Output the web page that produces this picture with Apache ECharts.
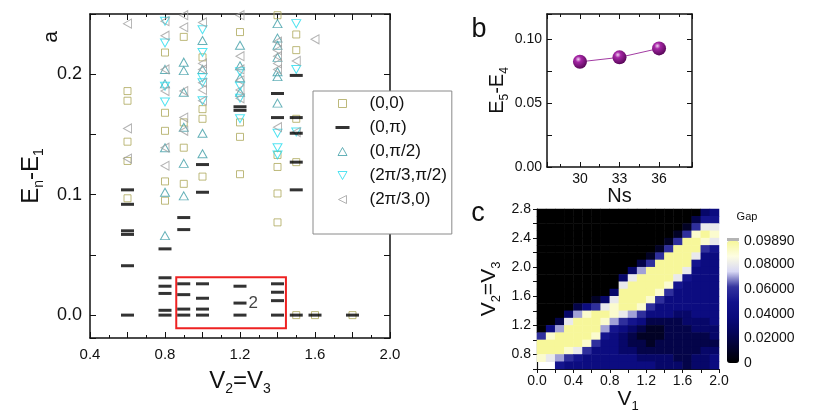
<!DOCTYPE html>
<html>
<head>
<meta charset="utf-8">
<title>Gap spectrum</title>
<script src="https://cdn.jsdelivr.net/npm/echarts@6/dist/echarts.min.js"></script>
<style>
  html, body { margin: 0; padding: 0; background: #fff; }
  #chart { width: 822px; height: 412px; }
</style>
</head>
<body>
<div id="chart"></div>
<script>
// Three panels in one canvas: (a) level spectrum per momentum sector,
// (b) E5-E4 against cluster size, (c) gap map over V1 / V2=V3.

// ---- panel a: E_n - E_1 against V2=V3, one list per momentum sector
const sector00 = [
  [0.6, 0.186], [0.6, 0.178], [0.6, 0.144], [0.6, 0.128], [0.6, 0.097],
  [0.8, 0.218], [0.8, 0.168], [0.8, 0.153], [0.8, 0.111], [0.8, 0.095],
  [0.9, 0.231], [0.9, 0.160], [0.9, 0.139], [0.9, 0.109],
  [1.0, 0.214], [1.0, 0.171], [1.0, 0.163], [1.0, 0.115],
  [1.2, 0.235], [1.2, 0.160], [1.2, 0.148], [1.2, 0.117],
  [1.4, 0.249], [1.4, 0.133], [1.4, 0.123], [1.4, 0.101], [1.4, 0.077],
  [1.5, 0.233], [1.5, 0.220], [1.5, 0.163], [1.5, 0.127], [1.5, 0],
  [1.6, 0], [1.8, 0]
];
const sector0pi = [
  [0.6, 0.104], [0.6, 0.092], [0.6, 0.070], [0.6, 0.067], [0.6, 0.041], [0.6, 0],
  [0.8, 0.055], [0.8, 0.031], [0.8, 0.024], [0.8, 0.018], [0.8, 0.004], [0.8, 0],
  [0.9, 0.081], [0.9, 0.071], [0.9, 0.026], [0.9, 0.017], [0.9, 0.005], [0.9, 0],
  [1.0, 0.125], [1.0, 0.102], [1.0, 0.026], [1.0, 0.014], [1.0, 0.005], [1.0, 0],
  [1.2, 0.173], [1.2, 0.170], [1.2, 0.024], [1.2, 0.010], [1.2, 0],
  [1.4, 0.184], [1.4, 0.164], [1.4, 0.026], [1.4, 0.019], [1.4, 0.012], [1.4, 0],
  [1.5, 0.199], [1.5, 0.164], [1.5, 0.151], [1.5, 0.127], [1.5, 0.104], [1.5, 0],
  [1.6, 0], [1.8, 0]
];
const sector0half = [
  [0.8, 0.204], [0.8, 0.192], [0.8, 0.139], [0.8, 0.102], [0.8, 0.066],
  [0.9, 0.210], [0.9, 0.203], [0.9, 0.185], [0.9, 0.156], [0.9, 0.126], [0.9, 0.099],
  [1.0, 0.228], [1.0, 0.204], [1.0, 0.151], [1.0, 0.134],
  [1.2, 0.224], [1.2, 0.207], [1.2, 0.197], [1.2, 0.185],
  [1.4, 0.242], [1.4, 0.230], [1.4, 0.224], [1.4, 0.214], [1.4, 0.202], [1.4, 0.198], [1.4, 0.176]
];
const sectorThirdHalf = [
  [0.8, 0.244], [0.8, 0.226], [0.8, 0.190], [0.8, 0.177],
  [1.0, 0.237], [1.0, 0.218], [1.0, 0.197], [1.0, 0.193], [1.0, 0.178],
  [1.2, 0.202], [1.2, 0.190], [1.2, 0.180], [1.2, 0.163],
  [1.4, 0.151], [1.4, 0.139], [1.4, 0.133],
  [1.5, 0.242], [1.5, 0.204], [1.5, 0.152]
];
const sectorThird0 = [
  [0.6, 0.242], [0.6, 0.155], [0.6, 0.130],
  [0.8, 0.244], [0.8, 0.232], [0.8, 0.204], [0.8, 0.186], [0.8, 0.139], [0.8, 0.124],
  [0.9, 0.249], [0.9, 0.239], [0.9, 0.186], [0.9, 0.164], [0.9, 0.153],
  [1.0, 0.243], [1.0, 0.209], [1.0, 0.204], [1.0, 0.193], [1.0, 0.187], [1.0, 0.178],
  [1.2, 0.249], [1.2, 0.215], [1.2, 0.204], [1.2, 0.195], [1.2, 0.187], [1.2, 0.180],
  [1.4, 0.227], [1.4, 0.220], [1.4, 0.215], [1.4, 0.209], [1.4, 0.204], [1.4, 0.156],
  [1.5, 0.211], [1.5, 0.152],
  [1.6, 0.229]
];
const twoFoldLevel = [1.2, 0.010];           // the "=2" level inside the box
const zoomBox = [[0.86, -0.011], [1.445, 0.0315]];

// ---- panel b
const nsSizes = [30, 33, 36];
const gapE54 = [0.0825, 0.086, 0.093];

// ---- panel c: gap, one string per V2=V3 row (top row first),
// one character per V1 column; "." = outside the computed region
const heatX = ['0.05','0.15','0.25','0.35','0.45','0.55','0.65','0.75','0.85','0.95',
               '1.05','1.15','1.25','1.35','1.45','1.55','1.65','1.75','1.85','1.95'];
const heatY = ['0.65','0.75','0.85','0.95','1.05','1.15','1.25','1.35','1.45','1.55','1.65',
               '1.75','1.85','1.95','2.05','2.15','2.25','2.35','2.45','2.55','2.65','2.75'];
const heatRows = [
  '00000000000000000034', // 2.75
  '00000000000000000255', // 2.65
  '00000000000000001688', // 2.55
  '000000000000000169y9', // 2.45
  '0000000000000016yy98', // 2.35
  '000000000000016yyy65', // 2.25
  '00000000000016yyy844', // 2.15
  '0000000000026yyyy544', // 2.05
  '000000000037yyyy8444', // 1.95
  '00000000038yyyy85444', // 1.85
  '0000000008yyyy954444', // 1.75
  '000000003yyyy9644444', // 1.65
  '000000138yyy96444444', // 1.55
  '000024689yy964444444', // 1.45
  '000379yy987644433444', // 1.35
  '0028yyy9765422223334', // 1.25
  '047yyyy7543211222333', // 1.15
  '69yyyy95432111222223', // 1.05
  'yyyyy964432212222222', // 0.95
  'yyy98644433222222233', // 0.85
  '98765444444333322334', // 0.75
  '..544444444443332334'  // 0.65
];
const heatLevel = { '0': 0, '1': 0.01, '2': 0.02, '3': 0.03, '4': 0.04, '5': 0.05,
                    '6': 0.06, '7': 0.07, '8': 0.08, '9': 0.09, 'y': 0.0989 };
const gapMax = 0.0989;
const heatColors = ['#000000', '#02022e', '#05055a', '#0a0a7c', '#12128c',
                    '#34349f', '#d8d8f4', '#fdfde2', '#f7f79a'];

const heatData = [];
heatRows.forEach((row, r) => {
  const yi = heatY.length - 1 - r;
  row.split('').forEach((ch, xi) => {
    if (ch !== '.') heatData.push([xi, yi, heatLevel[ch]]);
  });
});

const font = 'Liberation Sans';
const ink = '#111';

const stepLabel = (start, step, digits) => v => {
  const k = Math.round((v - start) / step);
  return Math.abs(v - start - k * step) < 1e-6 ? v.toFixed(digits) : '';
};
const richName = (big, small) => ({
  rich: {
    b: { fontFamily: font, fontSize: big, color: ink, lineHeight: big + 6 },
    s: { fontFamily: font, fontSize: small, color: ink, verticalAlign: 'bottom' }
  }
});
const line = { onZero: false, lineStyle: { color: ink, width: 1.5 } };
const tickIn = { inside: true, length: 5, lineStyle: { color: ink, width: 1 } };
const noSplit = { show: false };

function levelSeries(name, pts, symbol, size, color) {
  return {
    name, type: 'scatter', xAxisIndex: 0, yAxisIndex: 0,
    data: pts, symbol, symbolSize: size,
    itemStyle: { color: 'rgba(0,0,0,0)', borderColor: color, borderWidth: 1 },
    emphasis: { disabled: true }, z: 3
  };
}

const olive = '#aca75a', teal = '#3f9ea6', cyan = '#27dcee', grey = '#a0a0a0';
const box = 'path://M0,0M14,8';   // keeps every legend icon in the same 14x8 frame

const chart = echarts.init(document.getElementById('chart'), null, { renderer: 'canvas' });

chart.setOption({
  animation: false,
  backgroundColor: '#fff',
  textStyle: { fontFamily: font },
  grid: [
    { left: 90, top: 14, width: 300, height: 324, outerBoundsMode: 'none' },
    { left: 547, top: 14, width: 145, height: 153, outerBoundsMode: 'none' },
    { left: 537, top: 209, width: 182, height: 160, outerBoundsMode: 'none' },
    { left: 537, top: 209, width: 182, height: 160, outerBoundsMode: 'none' },
    { left: 727, top: 241, width: 12, height: 122, outerBoundsMode: 'none' }
  ],
  xAxis: [
    { gridIndex: 0, type: 'value', position: 'bottom', min: 0.4, max: 2.0, interval: 0.2,
      axisLine: line, axisTick: { ...tickIn, length: 6 }, splitLine: noSplit,
      minorTick: { show: true, splitNumber: 2, length: 3, lineStyle: { color: ink } },
      axisLabel: { fontSize: 15, color: ink, margin: 9, formatter: stepLabel(0.4, 0.4, 1) },
      name: '{b|V}{s|2}{b|=V}{s|3}', nameLocation: 'middle', nameGap: 28,
      nameTextStyle: richName(24, 14) },
    { gridIndex: 0, type: 'value', position: 'top', min: 0.4, max: 2.0, interval: 0.2,
      axisLine: line, axisTick: { ...tickIn, length: 6 }, splitLine: noSplit,
      minorTick: { show: true, splitNumber: 2, length: 3, lineStyle: { color: ink } },
      axisLabel: { show: false } },
    { gridIndex: 1, type: 'value', position: 'bottom', min: 27.5, max: 38.5, splitNumber: 4,
      axisLine: line, axisTick: tickIn, splitLine: noSplit,
      minorTick: { show: true, splitNumber: 2, length: 3, lineStyle: { color: ink } },
      axisLabel: { fontSize: 14, color: ink, margin: 5, formatter: stepLabel(0, 3, 0) },
      name: 'Ns', nameLocation: 'middle', nameGap: 19,
      nameTextStyle: { fontSize: 20, color: ink, fontFamily: font } },
    { gridIndex: 1, type: 'value', position: 'top', min: 27.5, max: 38.5, splitNumber: 4,
      axisLine: line, axisTick: tickIn, splitLine: noSplit,
      minorTick: { show: true, splitNumber: 2, length: 3, lineStyle: { color: ink } },
      axisLabel: { show: false } },
    { gridIndex: 2, type: 'category', data: heatX, show: false },
    { gridIndex: 3, type: 'value', position: 'bottom', min: 0, max: 2, interval: 0.2,
      axisLine: { onZero: false, lineStyle: { color: ink, width: 1.2 } },
      axisTick: { inside: false, length: 4, lineStyle: { color: ink } }, splitLine: noSplit,
      axisLabel: { fontSize: 14, color: ink, margin: 5, formatter: stepLabel(0, 0.4, 1) },
      name: '{b|V}{s|1}', nameLocation: 'middle', nameGap: 15,
      nameTextStyle: richName(21, 13) },
    { gridIndex: 4, type: 'value', min: 0, max: 1, show: false }
  ],
  yAxis: [
    { gridIndex: 0, type: 'value', position: 'left', min: -0.019, max: 0.25, splitNumber: 5,
      axisLine: line, axisTick: { ...tickIn, length: 6 }, splitLine: noSplit,
      axisLabel: { fontSize: 18, color: ink, margin: 8, formatter: stepLabel(0, 0.1, 1) },
      name: '{b|E}{s|n}{b|-E}{s|1}', nameLocation: 'middle', nameRotate: 90, nameGap: 44,
      nameTextStyle: richName(24, 14) },
    { gridIndex: 0, type: 'value', position: 'right', min: -0.019, max: 0.25, splitNumber: 5,
      axisLine: line, axisTick: { ...tickIn, length: 6 }, splitLine: noSplit,
      axisLabel: { show: false } },
    { gridIndex: 1, type: 'value', position: 'left', min: 0, max: 0.12, interval: 0.025,
      axisLine: line, axisTick: tickIn, splitLine: noSplit,
      axisLabel: { fontSize: 14, color: ink, margin: 5, formatter: stepLabel(0, 0.05, 2) },
      name: '{b|E}{s|5}{b|-E}{s|4}', nameLocation: 'middle', nameRotate: 90, nameGap: 30,
      nameTextStyle: richName(20, 12) },
    { gridIndex: 1, type: 'value', position: 'right', min: 0, max: 0.12, interval: 0.025,
      axisLine: line, axisTick: tickIn, splitLine: noSplit, axisLabel: { show: false } },
    { gridIndex: 2, type: 'category', data: heatY, show: false },
    { gridIndex: 3, type: 'value', position: 'left', min: 0.6, max: 2.8, interval: 0.2,
      axisLine: { onZero: false, lineStyle: { color: ink, width: 1.2 } },
      axisTick: { inside: false, length: 4, lineStyle: { color: ink } }, splitLine: noSplit,
      axisLabel: { fontSize: 14, color: ink, margin: 6, formatter: stepLabel(0.8, 0.4, 1) },
      name: '{b|V}{s|2}{b|=V}{s|3}', nameLocation: 'middle', nameRotate: 90, nameGap: 34,
      nameTextStyle: richName(21, 13) },
    { gridIndex: 4, type: 'value', position: 'right', min: 0, max: gapMax, interval: 0.02,
      axisLine: { show: false }, axisTick: { show: false }, splitLine: noSplit,
      axisLabel: { fontSize: 14, color: ink, margin: 5, showMaxLabel: true,
                   formatter: v => (v === 0 ? '0' : v.toFixed(5)) } }
  ],
  legend: {
    show: true, orient: 'vertical', left: 313, top: 91,
    padding: [4, 5, 26, 22], itemGap: 7, itemWidth: 44, itemHeight: 8,
    symbolKeepAspect: true, symbolRotate: 0, selectedMode: false,
    backgroundColor: '#fff', borderColor: '#8a8a8a', borderWidth: 1, borderRadius: 0,
    textStyle: { fontFamily: font, fontSize: 17, color: ink },
    itemStyle: { borderWidth: 1 },
    data: [
      { name: '(0,0)', icon: box + 'M3,0H11V8H3Z' },
      { name: '(0,π)', icon: box + 'M0,2.5H14V5.5H0Z', itemStyle: { borderWidth: 0 } },
      { name: '(0,π/2)', icon: box + 'M7,0L11.5,8H2.5Z' },
      { name: '(2π/3,π/2)', icon: box + 'M2.5,0H11.5L7,8Z' },
      { name: '(2π/3,0)', icon: box + 'M3,4L11,0V8Z' }
    ]
  },
  visualMap: {
    type: 'continuous', seriesIndex: 6, min: 0, max: gapMax, calculable: false,
    orient: 'vertical', left: 727, top: 241, itemWidth: 12, itemHeight: 122, padding: 0,
    inRange: { color: heatColors }
  },
  series: [
    levelSeries('(0,0)', sector00, 'rect', 7, olive),
    {
      name: '(0,π)', type: 'scatter', xAxisIndex: 0, yAxisIndex: 0,
      data: sector0pi.map(p => (p[0] === twoFoldLevel[0] && p[1] === twoFoldLevel[1])
        ? { value: p, label: { show: true, position: 'right', distance: 2, formatter: '2',
                               fontSize: 17, color: ink, fontFamily: font } }
        : p),
      symbol: 'rect', symbolSize: [13, 3], itemStyle: { color: '#000' },
      emphasis: { disabled: true }, z: 4,
      markArea: {
        silent: true,
        label: { show: false },
        itemStyle: { color: 'rgba(0,0,0,0)', borderColor: '#ee2222', borderWidth: 2 },
        data: [[{ coord: zoomBox[0] }, { coord: zoomBox[1] }]]
      }
    },
    levelSeries('(0,π/2)', sector0half, 'path://M5,0L10,9H0Z', [9, 8], teal),
    levelSeries('(2π/3,π/2)', sectorThirdHalf, 'path://M0,0H10L5,9Z', [9, 8], cyan),
    levelSeries('(2π/3,0)', sectorThird0, 'path://M0,5L9,0V10Z', [8, 9], grey),
    {
      type: 'line', xAxisIndex: 2, yAxisIndex: 2,
      data: nsSizes.map((n, i) => [n, gapE54[i]]),
      symbol: 'circle', symbolSize: 14,
      lineStyle: { color: '#a33ca3', width: 1 },
      itemStyle: {
        color: { type: 'radial', x: 0.38, y: 0.32, r: 0.7,
                 colorStops: [{ offset: 0, color: '#f2d2f2' },
                              { offset: 0.3, color: '#a526a5' },
                              { offset: 1, color: '#560656' }] }
      },
      emphasis: { disabled: true }, z: 3
    },
    {
      type: 'heatmap', xAxisIndex: 4, yAxisIndex: 4, data: heatData,
      progressive: 0, emphasis: { disabled: true }
    }
  ],
  graphic: [
    { type: 'text', x: 51, y: 37, rotation: Math.PI / 2,
      style: { text: 'a', fontSize: 21, fontFamily: font, fill: ink, align: 'center', verticalAlign: 'middle' } },
    { type: 'text', x: 479, y: 30,
      style: { text: 'b', fontSize: 27, fontFamily: font, fill: ink, align: 'center', verticalAlign: 'middle' } },
    { type: 'text', x: 478, y: 214,
      style: { text: 'c', fontSize: 27, fontFamily: font, fill: ink, align: 'center', verticalAlign: 'middle' } },
    { type: 'text', x: 747, y: 217,
      style: { text: 'Gap', fontSize: 11, fontFamily: font, fill: ink, align: 'center', verticalAlign: 'middle' } },
    { type: 'rect', shape: { x: 727, y: 238, width: 12, height: 3 }, style: { fill: '#b4b4b4' } }
  ]
});
</script>
</body>
</html>
